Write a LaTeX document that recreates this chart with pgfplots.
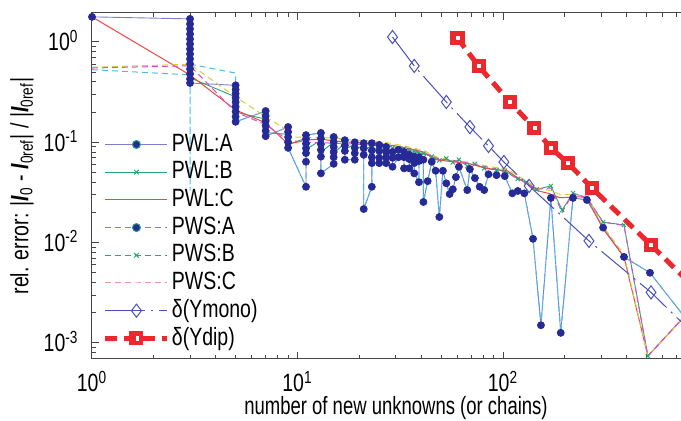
\documentclass[border=0pt]{standalone}
\usepackage{fontspec}
\setmainfont{Liberation Sans}[FakeStretch=0.78]
\newfontfamily\xlabelfont{Liberation Sans}[FakeStretch=0.74]
\usepackage{pgfplots}
\pgfplotsset{compat=1.18}
\usepackage{pgfplotstable}

\definecolor{navydot}{RGB}{38,42,150}
\definecolor{lavline}{RGB}{125,125,205}
\definecolor{cyanline}{RGB}{70,190,230}
\definecolor{pwlgreen}{RGB}{40,165,115}
\definecolor{pwlred}{RGB}{238,70,70}
\definecolor{pwsyellow}{RGB}{215,205,60}
\definecolor{pwsmag}{RGB}{215,80,200}
\definecolor{pwspink}{RGB}{240,150,150}
\definecolor{mono}{RGB}{75,80,185}
\definecolor{dip}{RGB}{235,40,45}
\definecolor{frame}{RGB}{70,70,70}

% A-type points (PWL:A / PWS:A), several values per x
\pgfplotstableread{
x y
1 1.78
3 1.70
3 1.51
3 1.35
3 1.20
3 1.07
3 0.955
3 0.852
3 0.759
3 0.677
3 0.604
3 0.538
3 0.480
3 0.428
3 0.390
5 0.370
5 0.335
5 0.305
5 0.278
5 0.252
5 0.226
5 0.202
5 0.180
5 0.160
7 0.205
7 0.183
7 0.163
7 0.146
7 0.130
7 0.115
9 0.142
9 0.127
9 0.113
9 0.100
9 0.088
11 0.036
11 0.064
11 0.078
11 0.087
11 0.097
11 0.108
11 0.118
13 0.124
13 0.109
13 0.096
13 0.084
13 0.072
13 0.049
15 0.061
15 0.071
15 0.080
15 0.090
15 0.101
15 0.113
17 0.105
17 0.093
17 0.082
17 0.067
19 0.067
19 0.078
19 0.088
19 0.100
21 0.098
21 0.087
21 0.075
21 0.0216
23 0.036
23 0.062
23 0.071
23 0.083
23 0.098
25 0.094
25 0.082
25 0.070
25 0.062
27 0.062
27 0.071
27 0.080
27 0.090
29 0.080
29 0.070
29 0.057
31 0.071
31 0.084
33 0.080
33 0.071
33 0.055
35 0.055
35 0.068
35 0.075
37 0.072
37 0.062
37 0.049
39 0.040
39 0.065
39 0.071
41 0.067
41 0.0254
43 0.041
45 0.064
47 0.052
49 0.018
51 0.052
53 0.039
55 0.0305
57 0.034
59 0.045
61 0.057
67 0.0334
69 0.054
73 0.044
77 0.036
81 0.0334
85 0.048
93 0.047
102 0.046
111 0.031
118 0.0327
127 0.031
140 0.0109
153 0.0015
171 0.0279
191 0.00126
219 0.0279
256 0.0266
307 0.0141
388 0.0072
519 0.0050
1000 0.0009
}\adots

\pgfplotstableread{
x y
29 1.12
37 0.577
53 0.252
69 0.142
85 0.092
101 0.0636
134 0.0367
262 0.0104
525 0.00319
1000 0.00088
}\ymono

\pgfplotstableread{
x y
60 1.096
76 0.577
108 0.252
142 0.139
171 0.0877
207 0.0622
271 0.035
525 0.00946
1000 0.0026
}\ydip

\begin{document}
\begin{tikzpicture}[font=\fontsize{12.5}{15}\selectfont]
\begin{axis}[
  scale only axis, width=304pt, height=173pt,
  xmode=log, ymode=log,
  xmin=1, xmax=909, ymin=6.91e-4, ymax=1.946,
  axis line style={frame, line width=0.5pt},
  tick style={frame, line width=0.5pt},
  tick align=inside,
  major tick length=3.5pt, minor tick length=2pt,
  xtick={1,10,100},
  xticklabels={10\textsuperscript{0},10\textsuperscript{1},10\textsuperscript{2}},
  ytick={0.001,0.01,0.1,1},
  yticklabels={10\textsuperscript{-3},10\textsuperscript{-2},10\textsuperscript{-1},10\textsuperscript{0}},
  minor xtick={2,3,4,5,6,7,8,9,20,30,40,50,60,70,80,90,200,300,400,500,600,700,800,900},
  minor ytick={0.0007,0.0008,0.0009,0.002,0.003,0.004,0.005,0.006,0.007,0.008,0.009,
    0.02,0.03,0.04,0.05,0.06,0.07,0.08,0.09,0.2,0.3,0.4,0.5,0.6,0.7,0.8,0.9},
  xticklabel style={anchor=base, yshift=-16.5pt},
  yticklabel style={anchor=base east, xshift=-3.2pt, yshift=-4.5pt},
  xlabel={\xlabelfont number of new unknowns (or chains)},
  ylabel={rel. error: |\textbf{\textit{I}}\textsubscript{0} - \textbf{\textit{I}}\textsubscript{0ref}| / |\textbf{\textit{I}}\textsubscript{0ref}|},
  xlabel style={at={(axis description cs:0.5,-0.159)}, anchor=base},
  ylabel style={at={(axis description cs:-0.115,0.5)}, anchor=center},
  legend cell align=left,
  legend style={draw=none, fill=none, at={(axis description cs:0.018,0.66)},
    anchor=north west, inner sep=0pt, outer sep=0pt, row sep=0pt,
    nodes={inner sep=1pt, text height=9.25pt, text depth=2.6pt}},
  legend image code/.code={\draw[mark repeat=2,mark phase=2,#1]
    plot coordinates {(0pt,0pt) (15.5pt,0pt) (31pt,0pt)};},
]

% connecting lines of the A points
\addplot[forget plot, lavline, line width=0.45pt] table {\adots};
\addplot[forget plot, cyanline, line width=0.5pt, dash pattern=on 3pt off 2pt]
  coordinates {(1,0.53)(3,0.47)(3,0.033)(3,0.60)(5,0.49)(5,0.37)};
\addplot[forget plot, cyanline, line width=0.5pt, dash pattern=on 3pt off 2pt,
  skip coords between index={0}{15}] table {\adots};

% PWL:B
\addplot[forget plot, pwlgreen, line width=0.45pt, mark=x, mark size=1.5pt] coordinates {
  (3,0.44)(5,0.283)(5,0.24)(5,0.20)(7,0.17)(7,0.14)(7,0.125)
  (9,0.12)(9,0.105)(9,0.095)(11,0.11)(11,0.095)(11,0.085)(13,0.105)(13,0.09)(13,0.08)
  (15,0.1)(15,0.088)(15,0.078)(17,0.098)(17,0.085)(19,0.096)(19,0.084)(21,0.094)(21,0.082)
  (23,0.094)(23,0.08)(25,0.092)(25,0.078)(27,0.09)(27,0.077)(29,0.088)(31,0.087)(33,0.086)
  (35,0.083)(37,0.081)(39,0.078)(41,0.077)(45,0.072)(49,0.066)(53,0.069)(57,0.063)
  (61,0.067)(67,0.058)(73,0.061)(81,0.055)(93,0.053)(102,0.052)(118,0.043)(130,0.040)
  (146,0.034)(171,0.0367)(194,0.0211)(219,0.0312)(256,0.028)(307,0.016)(388,0.015)
  (507,0.00074)(909,0.0027)};

% A points
\addplot[forget plot, only marks, mark=*, mark size=1.75pt, navydot] table {\adots};

% PWL:C
\addplot[forget plot, pwlred, line width=0.5pt] coordinates {
  (1,1.78)(3,0.469)(5,0.21)(7,0.156)(9,0.096)(11,0.105)(13,0.108)(15,0.103)(17,0.101)
  (19,0.100)(21,0.098)(25,0.097)(29,0.093)(33,0.089)(41,0.080)(47,0.067)(57,0.064)
  (69,0.061)(83,0.055)(105,0.052)(125,0.041)(146,0.033)(166,0.031)(189,0.028)
  (237,0.0286)(256,0.028)(307,0.0137)(388,0.0072)(507,0.00074)(909,0.0027)};

% PWS lines of the upper band
\addplot[forget plot, pwsyellow, line width=0.5pt, dash pattern=on 3pt off 2pt] coordinates {
  (1,0.56)(3,0.60)(5,0.283)(7,0.18)(9,0.13)(9,0.113)(11,0.112)(13,0.112)(15,0.110)
  (17,0.107)(21,0.104)(25,0.102)(29,0.097)(33,0.092)(41,0.083)(47,0.072)(57,0.066)
  (69,0.063)(83,0.058)(105,0.054)(130,0.041)(146,0.035)(171,0.033)(191,0.030)
  (219,0.030)(256,0.029)(307,0.0145)(388,0.0076)(507,0.00074)(909,0.0027)};
\addplot[forget plot, pwsmag, line width=0.5pt, dash pattern=on 3pt off 2pt] coordinates {
  (1,0.55)(3,0.58)(5,0.20)(7,0.15)(9,0.105)(11,0.100)(15,0.098)(21,0.095)(29,0.090)
  (41,0.079)(49,0.068)(61,0.065)(73,0.060)(93,0.054)(118,0.044)(146,0.034)(171,0.035)
  (194,0.020)(219,0.031)(256,0.028)(307,0.016)(388,0.0148)(507,0.00074)(909,0.0027)};

% delta(Ymono): line, then its marks on top
\addplot[forget plot, mono, line width=0.5pt, dash pattern=on 18pt off 3pt on 1pt off 3pt] table {\ymono};
\addplot[forget plot, only marks, mono, mark=diamond, mark size=3.3pt,
  mark options={solid, fill=white, line width=0.5pt}] table {\ymono};

% delta(Ydip): line, red squares, small white centres
\addplot[forget plot, dip, line width=2.5pt, dash pattern=on 6pt off 3.5pt] table {\ydip};
\addplot[forget plot, only marks, dip, mark=square*, mark size=3.3pt,
  mark options={solid, draw=dip, fill=dip, line width=0.4pt}] table {\ydip};
\addplot[forget plot, only marks, white, mark=square*, mark size=0.75pt,
  mark options={solid, draw=white, fill=white, line width=0.1pt}] table {\ydip};

% legend
\addlegendimage{lavline, line width=0.5pt, mark=*, mark size=2pt, mark options={fill=navydot, draw=pwlgreen}}
\addlegendentry{PWL:A}
\addlegendimage{pwlgreen, line width=0.5pt, mark=x, mark size=1.6pt}
\addlegendentry{PWL:B}
\addlegendimage{pwlred, line width=0.5pt}
\addlegendentry{PWL:C}
\addlegendimage{lavline, line width=0.5pt, dash pattern=on 3pt off 2pt, mark=*, mark size=2pt, mark options={solid, fill=navydot, draw=pwlgreen}}
\addlegendentry{PWS:A}
\addlegendimage{pwlgreen, line width=0.5pt, dash pattern=on 3pt off 2pt, mark=x, mark size=1.6pt, mark options={solid}}
\addlegendentry{PWS:B}
\addlegendimage{pwspink, line width=0.5pt, dash pattern=on 3pt off 2pt}
\addlegendentry{PWS:C}
\addlegendimage{mono, line width=0.5pt, dash pattern=on 20pt off 3pt on 1pt off 3pt, mark=diamond, mark size=3.3pt, mark options={solid, fill=white}}
\addlegendentry{δ(Ymono)}
\addlegendimage{dip, line width=2.5pt, dash pattern=on 6pt off 3.5pt, mark=square, mark size=2.3pt, mark options={solid, fill=white, line width=2.4pt}}
\addlegendentry{δ(Ydip)}
\end{axis}
\pgfresetboundingbox
\useasboundingbox (-46pt,-31pt) rectangle (294.5pt,179.5pt);
\end{tikzpicture}
\end{document}
